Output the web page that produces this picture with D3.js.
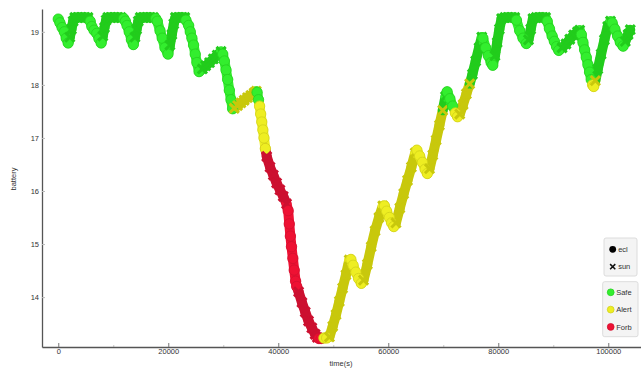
<!DOCTYPE html>
<html>
<head>
<meta charset="utf-8">
<script src="https://cdn.jsdelivr.net/npm/d3@7"></script>
<style>
  html, body { margin: 0; padding: 0; background: #fff; }
  svg { display: block; font-family: "Liberation Sans", Arial, sans-serif; }
</style>
</head>
<body>
<svg id="chart" width="641" height="368"></svg>
<script>
// time (s) of each sample
const time = [
  0, 300, 700, 1100, 1450, 1800,
  2100, 2400, 2700, 3000, 3600, 4200, 4800, 5400,
  5800, 6100, 6500, 7000, 7400, 7800,
  8100, 8400, 8700, 9000, 9600, 10200, 10800, 11400,
  11900, 12200, 12500, 12900, 13300, 13650,
  13950, 14250, 14550, 14900, 15500, 16100, 16700, 17300,
  17700, 18000, 18500, 18900, 19400, 19950,
  20300, 20650, 21000, 21300, 21900, 22500, 23000,
  23200, 23700, 24000, 24300, 24600, 24900, 25200, 25600,
  26200, 26800, 27500, 28200, 28900, 29600,
  29900, 30200, 30500, 30800, 31100, 31400, 31700,
  32000, 32600, 33200, 33800, 34400, 35000, 35600, 36000,
  36150, 36400, 36600, 36800, 37000, 37200, 37400, 37650,
  37900, 38500, 39100, 39700, 40300, 40900, 41500,
  41800, 42000, 42200, 42400, 42650, 42900, 43150, 43350,
  43700, 44300, 44900, 45500, 46100, 46700, 47100,
  47400, 47800, 48300, 48800,
  49300, 49900, 50500, 51100, 51700, 52300, 52900,
  53200, 53600, 54100, 54600, 55100,
  55500, 56200, 56900, 57600, 58300, 59000,
  59300, 59700, 60200, 60600, 61000,
  61400, 62100, 62800, 63500, 64200, 64900,
  65200, 65700, 66200, 66700, 67100,
  67500, 68100, 68700, 69300, 69900, 70400,
  70700, 71200, 71700, 72200, 72600,
  73000, 73600, 74200, 74800, 75300, 75900, 76500, 77000,
  77200, 77700, 78200, 78700, 79000,
  79400, 79800, 80200, 80600, 81200, 81800, 82400, 83000,
  83300, 83900, 84500, 85100,
  85500, 85900, 86300, 86900, 87500, 88100, 88600,
  88900, 89300, 89800, 90200, 90600, 91000,
  91600, 92300, 93000, 93700, 94400, 94800,
  95100, 95400, 95700, 96000, 96300, 96600, 96900, 97150, 97350,
  97650, 98100, 98700, 99300, 99900, 100400,
  100700, 101200, 101700, 102200, 102700,
  103100, 103600, 104000
];

// battery level of each sample
const battery = [
  19.24, 19.17, 19.08, 19.0, 18.88, 18.79,
  18.9, 19.05, 19.2, 19.27, 19.27, 19.27, 19.27, 19.27,
  19.2, 19.1, 19.03, 18.97, 18.87, 18.79,
  18.92, 19.08, 19.22, 19.27, 19.27, 19.27, 19.27, 19.27,
  19.25, 19.2, 19.12, 19.0, 18.85, 18.76,
  18.9, 19.05, 19.2, 19.27, 19.27, 19.27, 19.27, 19.27,
  19.25, 19.2, 19.02, 18.88, 18.7, 18.58,
  18.75, 18.95, 19.15, 19.27, 19.27, 19.27, 19.27,
  19.22, 19.12, 19.0, 18.88, 18.75, 18.58, 18.42, 18.25,
  18.3, 18.36, 18.42, 18.49, 18.56, 18.63,
  18.58, 18.45, 18.28, 18.1, 17.9, 17.72, 17.55,
  17.56, 17.61, 17.66, 17.71, 17.76, 17.8, 17.85, 17.88,
  17.86, 17.72, 17.6, 17.45, 17.3, 17.15, 17.0, 16.8,
  16.65, 16.45, 16.3, 16.15, 16.02, 15.9, 15.76,
  15.63, 15.38, 15.15, 14.95, 14.73, 14.51, 14.3, 14.2,
  14.1, 13.9, 13.72, 13.55, 13.42, 13.3, 13.24,
  13.22, 13.22, 13.23, 13.23,
  13.25, 13.45, 13.67, 13.92, 14.17, 14.42, 14.7,
  14.71, 14.6, 14.47, 14.35, 14.26,
  14.32, 14.62, 14.95, 15.25, 15.5, 15.72,
  15.72, 15.62, 15.5, 15.4, 15.33,
  15.4, 15.68, 15.95, 16.2, 16.45, 16.72,
  16.77, 16.66, 16.54, 16.41, 16.33,
  16.42, 16.68, 16.96, 17.24, 17.52, 17.78,
  17.87, 17.74, 17.6, 17.47, 17.4,
  17.45, 17.63, 17.83, 18.02, 18.2, 18.45, 18.7, 18.9,
  18.88, 18.7, 18.55, 18.42, 18.37,
  18.55, 18.8, 19.05, 19.25, 19.27, 19.27, 19.27, 19.27,
  19.22, 19.02, 18.88, 18.78,
  18.85, 19.05, 19.25, 19.27, 19.27, 19.27, 19.27,
  19.2, 19.06, 18.92, 18.82, 18.72, 18.65,
  18.7, 18.77, 18.86, 18.94, 19.0, 19.03,
  18.95, 18.8, 18.66, 18.52, 18.38, 18.24, 18.1, 18.0, 17.97,
  18.08, 18.3, 18.58, 18.85, 19.1, 19.2,
  19.17, 19.05, 18.92, 18.8, 18.73,
  18.82, 18.95, 19.04
];

// phase of each sample: e = eclipse, s = sun
const phase = [
  'e','e','e','e','e','e',
  's','s','s','s','s','s','s','s',
  'e','e','e','e','e','e',
  's','s','s','s','s','s','s','s',
  'e','e','e','e','e','e',
  's','s','s','s','s','s','s','s',
  'e','e','e','e','e','e',
  's','s','s','s','s','s','s',
  'e','e','e','e','e','e','e','e',
  's','s','s','s','s','s',
  'e','e','e','e','e','e','e',
  's','s','s','s','s','s','s','s',
  'e','e','e','e','e','e','e','e',
  's','s','s','s','s','s','s',
  'e','e','e','e','e','e','e','e',
  's','s','s','s','s','s','s',
  'e','e','e','e',
  's','s','s','s','s','s','s',
  'e','e','e','e','e',
  's','s','s','s','s','s',
  'e','e','e','e','e',
  's','s','s','s','s','s',
  'e','e','e','e','e',
  's','s','s','s','s','s',
  'e','e','e','e','e',
  's','s','s','s','s','s','s','s',
  'e','e','e','e','e',
  's','s','s','s','s','s','s','s',
  'e','e','e','e',
  's','s','s','s','s','s','s',
  'e','e','e','e','e','e',
  's','s','s','s','s','s',
  'e','e','e','e','e','e','e','e','e',
  's','s','s','s','s','s',
  'e','e','e','e','e',
  's','s','s'
];

// mode of each sample: S = Safe, A = Alert, F = Forb
const mode = [
  'S','S','S','S','S','S',
  'S','S','S','S','S','S','S','S',
  'S','S','S','S','S','S',
  'S','S','S','S','S','S','S','S',
  'S','S','S','S','S','S',
  'S','S','S','S','S','S','S','S',
  'S','S','S','S','S','S',
  'S','S','S','S','S','S','S',
  'S','S','S','S','S','S','S','S',
  'S','S','S','S','S','S',
  'S','S','S','S','S','S','S',
  'A','A','A','A','A','A','A','A',
  'S','S','A','A','A','A','A','A',
  'F','F','F','F','F','F','F',
  'F','F','F','F','F','F','F','F',
  'F','F','F','F','F','F','F',
  'F','F','A','A',
  'A','A','A','A','A','A','A',
  'A','A','A','A','A',
  'A','A','A','A','A','A',
  'A','A','A','A','A',
  'A','A','A','A','A','A',
  'A','A','A','A','A',
  'A','A','A','A','A','S',
  'S','S','S','A','A',
  'A','A','A','A','S','S','S','S',
  'S','S','S','S','S',
  'S','S','S','S','S','S','S','S',
  'S','S','S','S',
  'S','S','S','S','S','S','S',
  'S','S','S','S','S','S',
  'S','S','S','S','S','S',
  'S','S','S','S','S','S','S','A','A',
  'A','S','S','S','S','S',
  'S','S','S','S','S',
  'S','S','S'
];

const yTicks = [14, 15, 16, 17, 18, 19];
const xTicks = [0, 20000, 40000, 60000, 80000, 100000];
const xMinorTicks = [10000, 30000, 50000, 70000, 90000];
const phaseLegend = [{ key: 'e', label: 'ecl' }, { key: 's', label: 'sun' }];
const modeLegend = [{ key: 'S', label: 'Safe' }, { key: 'A', label: 'Alert' }, { key: 'F', label: 'Forb' }];

const circleFill = { S: '#33ee2e', A: '#eeee22', F: '#ee1133' };
const circleEdge = { S: '#26d21f', A: '#d2d21a', F: '#d21030' };
const crossColor = { S: '#22cc1c', A: '#c8c80c', F: '#cc1030' };

const data = time.map((t, i) => ({ t, v: battery[i], p: phase[i], m: mode[i] }));

const svg = d3.select('#chart');
const x = d3.scaleLinear().domain([-2960, 105950]).range([42, 641]);
const y = d3.scaleLinear().domain([13.06, 19.43]).range([347, 9]);

// connecting band so the dense trace reads as continuous
svg.append('g')
  .selectAll('line')
  .data(d3.pairs(data))
  .join('line')
  .attr('x1', d => x(d[0].t)).attr('y1', d => y(d[0].v))
  .attr('x2', d => x(d[1].t)).attr('y2', d => y(d[1].v))
  .attr('stroke', d => d[1].p === 'e' ? circleFill[d[1].m] : crossColor[d[1].m])
  .attr('stroke-width', 10)
  .attr('stroke-linecap', 'round');

const marks = svg.append('g')
  .selectAll('g')
  .data(data)
  .join('g')
  .attr('transform', d => `translate(${x(d.t)},${y(d.v)})`);

marks.filter(d => d.p === 'e')
  .append('circle')
  .attr('r', 5.2)
  .attr('fill', d => circleFill[d.m])
  .attr('stroke', d => circleEdge[d.m])
  .attr('stroke-width', 0.8);

marks.filter(d => d.p === 's')
  .append('path')
  .attr('d', 'M-4.6,-4.6L4.6,4.6M-4.6,4.6L4.6,-4.6')
  .attr('stroke', d => crossColor[d.m])
  .attr('stroke-width', 3);

// axes
svg.append('g')
  .attr('transform', 'translate(0,347)')
  .call(d3.axisBottom(x).tickValues(xMinorTicks).tickSizeInner(-2).tickSizeOuter(0).tickFormat(''))
  .call(g => g.select('.domain').remove())
  .call(g => g.selectAll('.tick line').attr('stroke', '#c8c8c8'));

svg.append('g')
  .attr('transform', 'translate(0,347)')
  .call(d3.axisBottom(x).tickValues(xTicks).tickSizeInner(-4).tickSizeOuter(0).tickPadding(2).tickFormat(d3.format('d')))
  .call(g => g.select('.domain').attr('stroke', '#555').attr('stroke-width', 1.3))
  .call(g => g.selectAll('.tick line').attr('stroke', '#777'))
  .call(g => g.selectAll('.tick text').attr('fill', '#333').attr('font-size', 7.5));

svg.append('g')
  .attr('transform', 'translate(42,0)')
  .call(d3.axisLeft(y).tickValues(yTicks).tickSizeInner(-3).tickSizeOuter(0).tickPadding(3).tickFormat(d3.format('d')))
  .call(g => g.select('.domain').attr('stroke', '#555').attr('stroke-width', 1.3))
  .call(g => g.selectAll('.tick line').attr('stroke', '#bbb'))
  .call(g => g.selectAll('.tick text').attr('fill', '#333').attr('font-size', 7.5));

svg.append('text')
  .attr('x', 341).attr('y', 366)
  .attr('text-anchor', 'middle')
  .attr('font-size', 7.5).attr('fill', '#333')
  .text('time(s)');

svg.append('text')
  .attr('transform', 'translate(16,179) rotate(-90)')
  .attr('text-anchor', 'middle')
  .attr('font-size', 7.5).attr('fill', '#333')
  .text('battery');

// legends
const leg1 = svg.append('g');
leg1.append('rect')
  .attr('x', 604).attr('y', 238).attr('width', 33).attr('height', 38).attr('rx', 2)
  .attr('fill', '#f4f4f4').attr('stroke', '#dcdcdc');
const l1 = leg1.selectAll('g.item').data(phaseLegend).join('g')
  .attr('transform', (d, i) => `translate(612.7,${249.3 + i * 17.4})`);
l1.filter(d => d.key === 'e').append('circle').attr('r', 3.4).attr('fill', '#000');
l1.filter(d => d.key === 's').append('path')
  .attr('d', 'M-2.6,-2.6L2.6,2.6M-2.6,2.6L2.6,-2.6').attr('stroke', '#111').attr('stroke-width', 1.5);
l1.append('text').attr('x', 5.5).attr('y', 2.6).attr('font-size', 7.5).attr('fill', '#333').text(d => d.label);

const leg2 = svg.append('g');
leg2.append('rect')
  .attr('x', 602.7).attr('y', 281.7).attr('width', 35.3).attr('height', 55).attr('rx', 2)
  .attr('fill', '#f4f4f4').attr('stroke', '#dcdcdc');
const l2 = leg2.selectAll('g.item').data(modeLegend).join('g')
  .attr('transform', (d, i) => `translate(610.7,${292.3 + i * 17.3})`);
l2.append('circle').attr('r', 3.4)
  .attr('fill', d => circleFill[d.key])
  .attr('stroke', d => circleEdge[d.key]).attr('stroke-width', 0.8);
l2.append('text').attr('x', 5.5).attr('y', 2.6).attr('font-size', 7.5).attr('fill', '#333').text(d => d.label);
</script>
</body>
</html>
